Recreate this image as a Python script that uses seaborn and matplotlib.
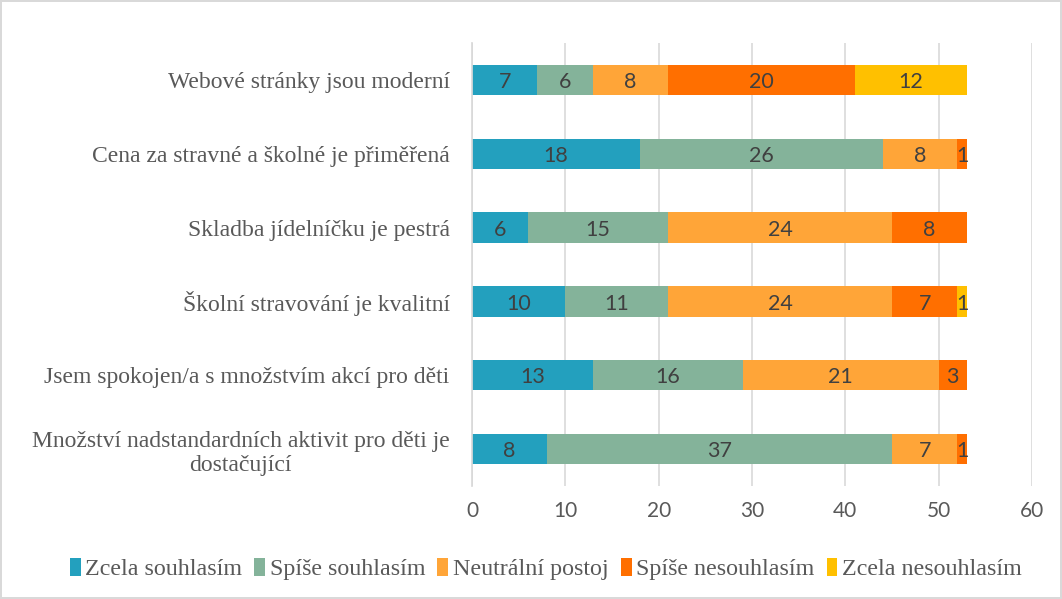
"""
Stacked horizontal bar chart - parent survey (Likert scale answers)
"""

import pandas as pd
import numpy as np
import matplotlib.pyplot as plt
from matplotlib.patches import Patch
import seaborn as sns

# Data
questions = [
    'Webové stránky jsou moderní',
    'Cena za stravné a školné je přiměřená',
    'Skladba jídelníčku je pestrá',
    'Školní stravování je kvalitní',
    'Jsem spokojen/a s množstvím akcí pro děti',
    'Množství nadstandardních aktivit pro děti je\ndostačující',
]
answers = ['Zcela souhlasím', 'Spíše souhlasím', 'Neutrální postoj',
           'Spíše nesouhlasím', 'Zcela nesouhlasím']

zcela_souhlasim = [7, 18, 6, 10, 13, 8]
spise_souhlasim = [6, 26, 15, 11, 16, 37]
neutralni = [8, 8, 24, 24, 21, 7]
spise_nesouhlasim = [20, 1, 8, 7, 3, 1]
zcela_nesouhlasim = [12, 0, 0, 1, 0, 0]

colors = ['#23A0BE', '#84B39A', '#FFA538', '#FF6F00', '#FFC000']

df = pd.DataFrame({
    'question': questions,
    answers[0]: zcela_souhlasim,
    answers[1]: spise_souhlasim,
    answers[2]: neutralni,
    answers[3]: spise_nesouhlasim,
    answers[4]: zcela_nesouhlasim,
})

sns.set_theme(style='white')
serif = ['Liberation Serif', 'DejaVu Serif']
sans = ['Lato', 'DejaVu Sans']

fig = plt.figure(figsize=(10.62, 5.99), dpi=100)
fig.patch.set_edgecolor('#D9D9D9')
fig.patch.set_linewidth(1.5)
ax = fig.add_axes([0.4444, 0.1886, 0.5274, 0.7396])

# cumulative sums, drawn from the last segment backwards
cum = df[answers].cumsum(axis=1)
for ans, col in reversed(list(zip(answers, colors))):
    sns.barplot(x=cum[ans], y=df['question'], color=col, orient='h',
                width=0.41, ax=ax, saturation=1, linewidth=0)

# value labels
for i in range(len(df)):
    left = 0
    for ans in answers:
        v = df.loc[i, ans]
        if v > 0:
            ax.text(left + v / 2, i + 0.03, str(v), ha='center', va='center',
                    fontsize=15.5, color='#404040', family=sans)
        left += v

ax.set_xlim(0, 60)
ax.set_ylim(5.5, -0.5)
ax.set_xticks(range(0, 61, 10))
ax.set_xlabel('')
ax.set_ylabel('')
ax.grid(axis='x', color='#D9D9D9', linewidth=1.2)
ax.grid(axis='y', visible=False)
ax.set_axisbelow(True)
for s in ['top', 'right', 'bottom']:
    ax.spines[s].set_visible(False)
ax.spines['left'].set_color('#D9D9D9')
ax.tick_params(axis='both', length=0)
ax.tick_params(axis='x', pad=11)
ax.tick_params(axis='y', pad=16)

for lab in ax.get_xticklabels():
    lab.set_family(sans)
    lab.set_fontsize(15)
    lab.set_color('#595959')
for lab in ax.get_yticklabels():
    lab.set_family(serif)
    lab.set_fontsize(17)
    lab.set_color('#595959')
    lab.set_multialignment('center')

handles = [Patch(facecolor=c, edgecolor='none') for c in colors]
leg = fig.legend(handles, answers, loc='center', bbox_to_anchor=(0.514, 0.05),
                 ncol=5, frameon=False, handlelength=0.45, handleheight=0.75,
                 handletextpad=0.2, columnspacing=0.5,
                 prop={'family': serif, 'size': 17.3})
for t in leg.get_texts():
    t.set_color('#595959')

fig.savefig('out.png', dpi=100)
